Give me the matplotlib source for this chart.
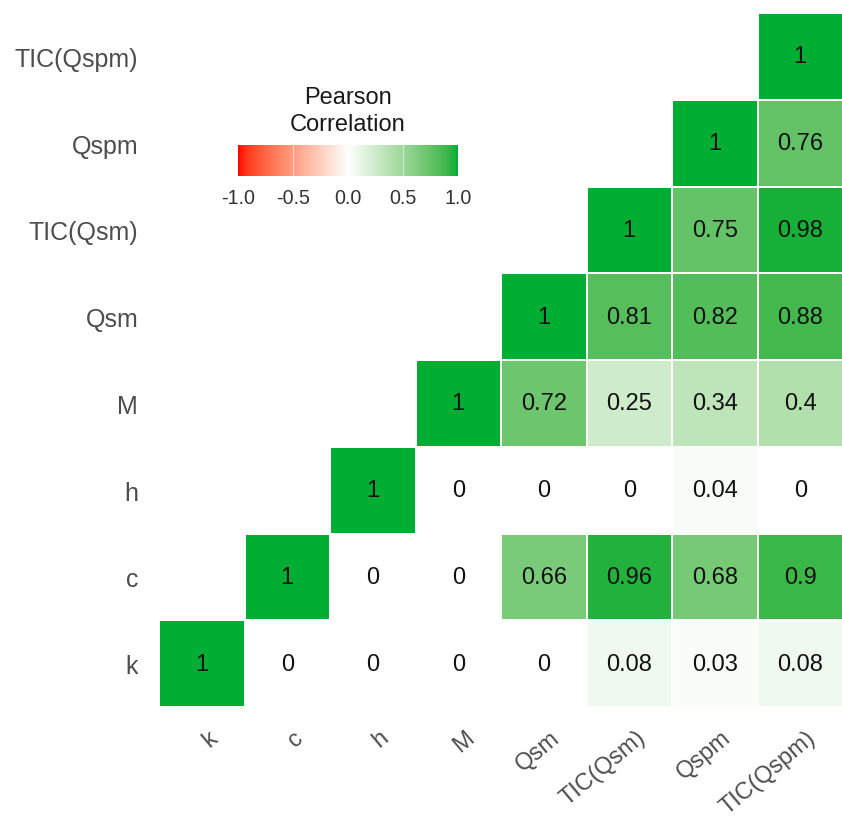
import numpy as np
import matplotlib
matplotlib.use("Agg")
import matplotlib.pyplot as plt
from matplotlib.colors import ListedColormap, Normalize
from matplotlib.transforms import ScaledTranslation

plt.rcParams["font.family"] = ["Liberation Sans", "DejaVu Sans"]

variables = ["k", "c", "h", "M", "Qsm", "TIC(Qsm)", "Qspm", "TIC(Qspm)"]

# Upper triangle of the correlation matrix: each row starts at its diagonal cell
corr_k = [1, 0, 0, 0, 0, 0.08, 0.03, 0.08]
corr_c = [1, 0, 0, 0.66, 0.96, 0.68, 0.9]
corr_h = [1, 0, 0, 0, 0.04, 0]
corr_M = [1, 0.72, 0.25, 0.34, 0.4]
corr_Qsm = [1, 0.81, 0.82, 0.88]
corr_TIC_Qsm = [1, 0.75, 0.98]
corr_Qspm = [1, 0.76]
corr_TIC_Qspm = [1]

legend_ticks = [-1.0, -0.5, 0.0, 0.5, 1.0]
legend_labels = ["-1.0", "-0.5", "0.0", "0.5", "1.0"]

low_color = "#FF0000"
mid_color = "#FFFFFF"
high_color = "#00AE34"


# --- diverging palette interpolated in CIELAB space -------------------------
def _hex_to_rgb(h):
    h = h.lstrip("#")
    return np.array([int(h[i:i + 2], 16) / 255 for i in (0, 2, 4)])


_M = np.array([[0.4124564, 0.3575761, 0.1804375],
               [0.2126729, 0.7151522, 0.0721750],
               [0.0193339, 0.1191920, 0.9503041]])
_WHITE = np.array([0.95047, 1.0, 1.08883])


def rgb_to_lab(rgb):
    rgb = np.asarray(rgb, float)
    lin = np.where(rgb <= 0.04045, rgb / 12.92, ((rgb + 0.055) / 1.055) ** 2.4)
    xyz = (_M @ lin.T).T / _WHITE
    d = 6 / 29
    f = np.where(xyz > d ** 3, np.cbrt(xyz), xyz / (3 * d ** 2) + 4 / 29)
    L = 116 * f[..., 1] - 16
    a = 500 * (f[..., 0] - f[..., 1])
    b = 200 * (f[..., 1] - f[..., 2])
    return np.stack([L, a, b], axis=-1)


def lab_to_rgb(lab):
    lab = np.asarray(lab, float)
    fy = (lab[..., 0] + 16) / 116
    fx = fy + lab[..., 1] / 500
    fz = fy - lab[..., 2] / 200
    f = np.stack([fx, fy, fz], axis=-1)
    d = 6 / 29
    xyz = np.where(f > d, f ** 3, 3 * d ** 2 * (f - 4 / 29)) * _WHITE
    lin = (np.linalg.inv(_M) @ xyz.T).T
    lin = np.clip(lin, 0, 1)
    rgb = np.where(lin <= 0.0031308, 12.92 * lin, 1.055 * lin ** (1 / 2.4) - 0.055)
    return np.clip(rgb, 0, 1)


def diverging_lab_cmap(low, mid, high, n=511):
    labs = rgb_to_lab(np.array([_hex_to_rgb(low), _hex_to_rgb(mid), _hex_to_rgb(high)]))
    t = np.linspace(0, 1, n)
    out = np.empty((n, 3))
    left = t <= 0.5
    s = t[left] / 0.5
    out[left] = labs[0] + (labs[1] - labs[0]) * s[:, None]
    s = (t[~left] - 0.5) / 0.5
    out[~left] = labs[1] + (labs[2] - labs[1]) * s[:, None]
    return ListedColormap(lab_to_rgb(out))


cmap = diverging_lab_cmap(low_color, mid_color, high_color)
norm = Normalize(-1, 1)

# --- assemble matrix ---------------------------------------------------------
rows = [corr_k, corr_c, corr_h, corr_M, corr_Qsm, corr_TIC_Qsm, corr_Qspm, corr_TIC_Qspm]
n = len(variables)
mat = np.full((n, n), np.nan)
for i, r in enumerate(rows):
    for k, v in enumerate(r):
        mat[i, i + k] = v
masked = np.ma.masked_invalid(mat)

W, H = 842, 828
fig = plt.figure(figsize=(W / 100, H / 100), dpi=100)
fig.patch.set_facecolor("white")

ax = fig.add_axes([159 / W, 1 - 708 / H, 684 / W, 694 / H])
edges = np.arange(n + 1) - 0.5
ax.pcolormesh(edges, edges, masked, cmap=cmap, norm=norm,
              edgecolors="white", linewidth=0.35)
ax.set_xlim(-0.5, n - 0.5)
ax.set_ylim(-0.5, n - 0.5)

for i in range(n):
    for j in range(n):
        v = mat[i, j]
        if np.isnan(v):
            continue
        ax.text(j, i, f"{v:g}", ha="center", va="center",
                fontsize=17, color="#111111")

for s in ax.spines.values():
    s.set_visible(False)

ax.set_yticks(range(n))
ax.set_yticklabels(variables)
ax.set_xticks(range(n))
ax.set_xticklabels(variables)
ax.tick_params(axis="both", length=0, labelcolor="#4D4D4D")
ax.tick_params(axis="y", pad=15, labelsize=18)
ax.tick_params(axis="x", pad=0, labelsize=17)
offset = ScaledTranslation(6 / 100, -19 / 100, fig.dpi_scale_trans)
for lab in ax.get_xticklabels():
    lab.set_rotation(40)
    lab.set_ha("right")
    lab.set_va("top")
    lab.set_rotation_mode("anchor")
    lab.set_transform(lab.get_transform() + offset)

# --- legend colour bar -------------------------------------------------------
cax = fig.add_axes([238 / W, 1 - 177 / H, 220 / W, 31 / H])
grad = np.linspace(-1, 1, 400).reshape(1, -1)
cax.imshow(grad, cmap=cmap, norm=norm, aspect="auto", extent=[-1, 1, 0, 1])
for t in legend_ticks[1:-1]:
    cax.axvline(t, color="white", lw=0.8, alpha=0.5)
cax.set_xlim(-1, 1)
cax.set_ylim(0, 1)
cax.set_yticks([])
cax.set_xticks(legend_ticks)
cax.set_xticklabels(legend_labels)
cax.tick_params(axis="x", length=0, pad=8.5, labelsize=14.2, labelcolor="#333333")
for s in cax.spines.values():
    s.set_visible(False)

fig.text(348 / W, 1 - 98 / H, "Pearson", ha="center", va="center",
         fontsize=17, color="#1A1A1A")
fig.text(348 / W, 1 - 125 / H, "Correlation", ha="center", va="center",
         fontsize=17, color="#1A1A1A")

fig.savefig("out.png", dpi=100, facecolor="white")
